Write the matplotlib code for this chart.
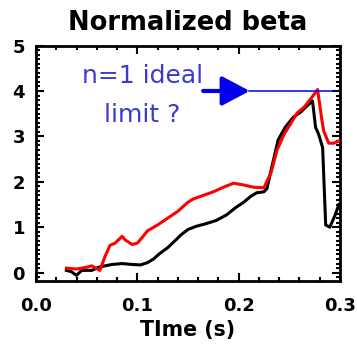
import matplotlib
matplotlib.use("Agg")
import matplotlib.pyplot as plt
from matplotlib.ticker import MultipleLocator, FormatStrFormatter

plt.rcParams['font.family'] = ['DejaVu Sans']

red_t = [0.030, 0.040, 0.050, 0.055, 0.063, 0.068, 0.073, 0.078, 0.085, 0.088, 0.095, 0.100,
         0.105, 0.110, 0.120, 0.130, 0.140, 0.150, 0.155, 0.165, 0.175, 0.185, 0.195, 0.205,
         0.215, 0.225, 0.232, 0.238, 0.245, 0.252, 0.258, 0.265, 0.272, 0.278, 0.282, 0.284,
         0.289, 0.294, 0.299]
red_beta = [0.10, 0.08, 0.12, 0.15, 0.05, 0.35, 0.60, 0.65, 0.80, 0.72, 0.62, 0.65,
            0.78, 0.92, 1.05, 1.20, 1.35, 1.55, 1.62, 1.70, 1.78, 1.88, 1.97, 1.93,
            1.88, 1.87, 2.20, 2.70, 3.05, 3.30, 3.52, 3.65, 3.85, 4.03, 3.40, 3.12,
            2.85, 2.85, 2.90]

black_t = [0.030, 0.035, 0.040, 0.045, 0.055, 0.062, 0.068, 0.075, 0.085, 0.095, 0.103, 0.110,
           0.116, 0.122, 0.130, 0.138, 0.143, 0.150, 0.158, 0.168, 0.178, 0.188, 0.197, 0.205,
           0.212, 0.218, 0.225, 0.228, 0.232, 0.239, 0.246, 0.254, 0.262, 0.268, 0.273, 0.276,
           0.279, 0.283, 0.286, 0.290, 0.295, 0.299]
black_beta = [0.05, 0.02, -0.06, 0.05, 0.05, 0.12, 0.15, 0.18, 0.20, 0.18, 0.17, 0.22,
              0.30, 0.42, 0.55, 0.72, 0.83, 0.95, 1.02, 1.08, 1.15, 1.27, 1.43, 1.55,
              1.68, 1.76, 1.78, 1.85, 2.25, 2.92, 3.20, 3.42, 3.55, 3.68, 3.78, 3.20,
              3.05, 2.75, 1.05, 1.00, 1.25, 1.50]

limit_value = 4.0
limit_t = [0.210, 0.293]
arrow_t = [0.165, 0.211]

title = "Normalized beta"
xlabel = "TIme (s)"
note_lines = ["n=1 ideal", "limit ?"]

fig = plt.figure(figsize=(3.57, 3.45), dpi=100)
ax = fig.add_axes([0.101, 0.186, 0.851, 0.682])

ax.plot(black_t, black_beta, color='black', lw=2.2, zorder=3)
ax.plot(red_t, red_beta, color='#ff0000', lw=2.2, zorder=4)
ax.plot(limit_t, [limit_value, limit_value], color='#0000ee', lw=1.1, zorder=5)
ax.annotate('', xy=(arrow_t[1], limit_value), xytext=(arrow_t[0], limit_value),
            arrowprops=dict(arrowstyle='-|>,head_length=0.85,head_width=0.45',
                            color='#0000ee', lw=3, mutation_scale=20,
                            shrinkA=0, shrinkB=0), zorder=5)

ax.text(0.105, 4.33, note_lines[0], color='#3b3bd0', fontsize=18, ha='center', va='center')
ax.text(0.105, 3.47, note_lines[1], color='#3b3bd0', fontsize=18, ha='center', va='center')

ax.set_xlim(0, 0.3)
ax.set_ylim(-0.18, 5)
ax.xaxis.set_major_locator(MultipleLocator(0.1))
ax.xaxis.set_minor_locator(MultipleLocator(0.02))
ax.yaxis.set_major_locator(MultipleLocator(1))
ax.yaxis.set_minor_locator(MultipleLocator(0.1))
ax.xaxis.set_major_formatter(FormatStrFormatter('%.1f'))
ax.tick_params(which='both', direction='in', top=True, right=True, width=1.5)
ax.tick_params(which='major', length=6, labelsize=13)
ax.tick_params(axis='x', which='major', pad=12)
ax.tick_params(axis='y', which='major', pad=8)
ax.tick_params(which='minor', length=3)
for lab in ax.get_xticklabels() + ax.get_yticklabels():
    lab.set_fontweight('bold')
for s in ax.spines.values():
    s.set_linewidth(2)

ax.set_title(title, fontsize=18.5, fontweight='bold', pad=11)
ax.set_xlabel(xlabel, fontsize=14.8, fontweight='bold', labelpad=3)

fig.savefig('out.png', dpi=100)
